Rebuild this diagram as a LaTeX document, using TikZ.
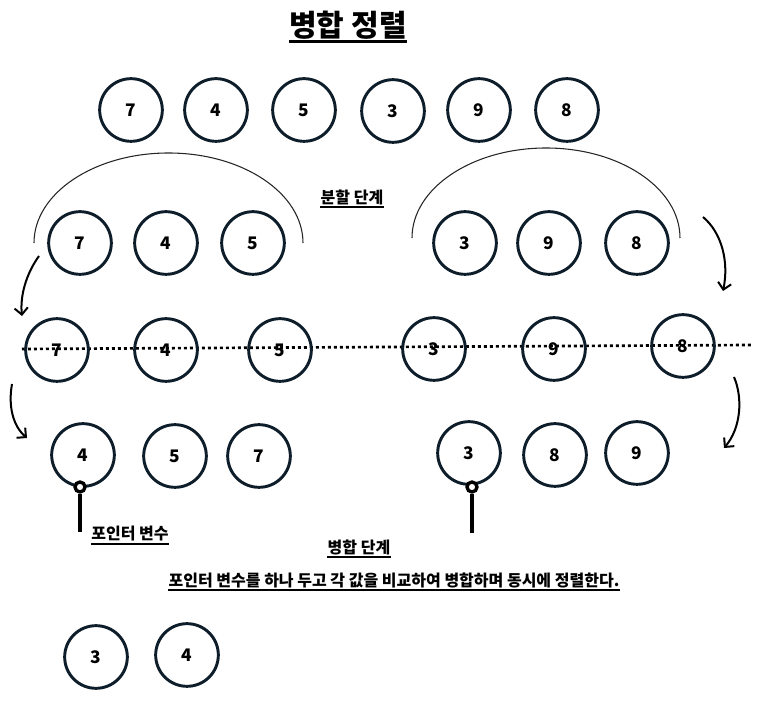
\documentclass[tikz,border=0pt]{standalone}
\usepackage{fontspec}
\setmainfont{Noto Sans CJK KR}
\usepackage{tikz}
\usetikzlibrary{arrows.meta,positioning}
\definecolor{ringcol}{HTML}{0E1D2A}
\tikzset{
  numnode/.style={circle, draw=ringcol, line width=2.2pt, minimum size=47pt, inner sep=0pt,
    font=\bfseries\fontsize{13}{13}\selectfont},
  caption/.style={inner sep=0pt, font=\bfseries\fontsize{12}{14}\selectfont},
  uline/.style={line width=1.4pt},
  bracearc/.style={draw=black!85, line width=0.8pt},
  curvarr/.style={-{Straight Barb[length=5pt,width=10pt]}, line width=1.5pt},
  divline/.style={line width=2pt, dash pattern=on 2.2pt off 2.3pt},
  pointer/.style={circle, draw=black, line width=2.5pt, fill=white, minimum size=7.5pt, inner sep=0pt},
  stick/.style={line width=3pt}
}

\begin{document}
\begin{tikzpicture}[x=0.75pt, y=-0.75pt]
  \useasboundingbox (0,0) rectangle (776,716);

  % ---- Title ----
  \node[inner sep=0pt, font=\bfseries\fontsize{22.5}{26}\selectfont] (title) at (348,25) {병합 정렬};
  \draw[line width=2.3pt] ([yshift=-4pt]title.base west) -- ([yshift=-4pt]title.base east);

  % ---- Unsorted row ----
  \node[numnode] (a1) at (131,110) {7};
  \node[numnode] (a2) at (216,110) {4};
  \node[numnode] (a3) at (304,110) {5};
  \node[numnode] (a4) at (393,111) {3};
  \node[numnode] (a5) at (479,110) {9};
  \node[numnode] (a6) at (567,110) {8};

  % ---- Split step: two halves under arcs ----
  \node[numnode] (l1) at (80,243) {7};
  \node[numnode] (l2) at (166,243) {4};
  \node[numnode] (l3) at (253,243) {5};
  \node[numnode] (r1) at (465,243) {3};
  \node[numnode] (r2) at (549,243) {9};
  \node[numnode] (r3) at (637,243) {8};

  \coordinate (arcL) at (34,243);
  \coordinate (arcR) at (412,238);
  \draw[bracearc] (arcL) arc[start angle=180, end angle=360, x radius=134.5, y radius=90];
  \draw[bracearc] (arcR) arc[start angle=180, end angle=360, x radius=134, y radius=90];

  \node[caption] (splitlbl) at (352,197) {분할 단계};
  \draw[uline] ([yshift=-3pt]splitlbl.base west) -- ([yshift=-3pt]splitlbl.base east);

  % ---- Single elements on the dotted line ----
  \coordinate (dotL) at (22,349);
  \coordinate (dotR) at (752,345);
  \draw[divline] (dotL) -- (dotR);

  \node[numnode] (s1) at (57,350) {7};
  \node[numnode] (s2) at (166,350) {4};
  \node[numnode] (s3) at (280,350) {5};
  \node[numnode] (s4) at (434,349) {3};
  \node[numnode] (s5) at (554,349) {9};
  \node[numnode] (s6) at (683,346) {8};

  % ---- Curved arrows between steps ----
  \coordinate (arr1a) at (39,256);  \coordinate (arr1b) at (22,316);
  \coordinate (arr2a) at (703,217); \coordinate (arr2b) at (723,291);
  \coordinate (arr3a) at (12,384);  \coordinate (arr3b) at (27,438);
  \coordinate (arr4a) at (734,377); \coordinate (arr4b) at (724,448);
  \draw[curvarr] (arr1a) .. controls (26,274) and (20,296) .. (arr1b);
  \draw[curvarr] (arr2a) .. controls (722,233) and (729,262) .. (arr2b);
  \draw[curvarr] (arr3a) .. controls (8,406) and (13,426) .. (arr3b);
  \draw[curvarr] (arr4a) .. controls (743,398) and (741,428) .. (arr4b);

  % ---- Merge step ----
  \node[numnode] (m1) at (83,455) {4};
  \node[numnode] (m2) at (175,456) {5};
  \node[numnode] (m3) at (259,456) {7};
  \node[numnode] (m4) at (469,453) {3};
  \node[numnode] (m5) at (555,455) {8};
  \node[numnode] (m6) at (637,453) {9};

  \node[pointer] (p1) at (80,487) {};
  \node[pointer] (p2) at (472,487) {};
  \coordinate (p1end) at (80,532);
  \coordinate (p2end) at (472,533);
  \draw[stick] (p1.south) -- (p1end);
  \draw[stick] (p2.south) -- (p2end);

  \node[caption] (ptrlbl) at (130,534) {포인터 변수};
  \draw[uline] ([yshift=-3pt]ptrlbl.base west) -- ([yshift=-3pt]ptrlbl.base east);
  \node[caption] (mergelbl) at (359,547) {병합 단계};
  \draw[uline] ([yshift=-3pt]mergelbl.base west) -- ([yshift=-3pt]mergelbl.base east);
  \node[caption] (desc) at (394,580) {포인터 변수를 하나 두고 각 값을 비교하여 병합하며 동시에 정렬한다.};
  \draw[uline] ([yshift=-3pt]desc.base west) -- ([yshift=-3pt]desc.base east);

  % ---- Result so far ----
  \node[numnode] (b1) at (96,657) {3};
  \node[numnode] (b2) at (187,655) {4};

\end{tikzpicture}
\end{document}
